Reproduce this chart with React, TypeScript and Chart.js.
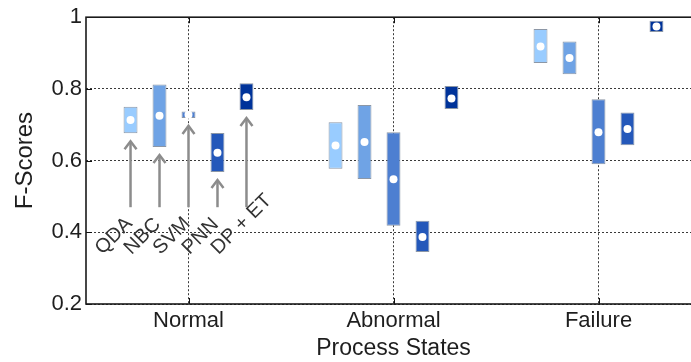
import React, { useEffect, useRef } from "react";
import { Chart, registerables } from "chart.js";

Chart.register(...registerables);

// Process states on the x axis
const STATES = ["Normal", "Abnormal", "Failure"];

// Classifiers, one floating bar per state
const MODELS = ["QDA", "NBC", "SVM", "PNN", "DP + ET"];

// F-score ranges (low / high) and means per classifier, per state
const QDA_LOW = [0.676, 0.577, 0.872];
const QDA_HIGH = [0.75, 0.707, 0.967];
const QDA_MEAN = [0.713, 0.642, 0.918];

const NBC_LOW = [0.638, 0.549, 0.841];
const NBC_HIGH = [0.812, 0.755, 0.932];
const NBC_MEAN = [0.725, 0.652, 0.886];

const SVM_LOW = [0.719, 0.418, 0.59];
const SVM_HIGH = [0.737, 0.679, 0.771];
const SVM_MEAN = [0.728, 0.548, 0.679];

const PNN_LOW = [0.568, 0.345, 0.643];
const PNN_HIGH = [0.677, 0.432, 0.734];
const PNN_MEAN = [0.622, 0.387, 0.688];

const DPET_LOW = [0.741, 0.744, 0.959];
const DPET_HIGH = [0.816, 0.808, 0.99];
const DPET_MEAN = [0.777, 0.773, 0.974];

// Y axis ticks
const Y_TICKS = [0.2, 0.4, 0.6, 0.8, 1];

// Value at which the annotation arrows under the "Normal" group start
const ARROW_BASE = 0.47;

const LOWS = [QDA_LOW, NBC_LOW, SVM_LOW, PNN_LOW, DPET_LOW];
const HIGHS = [QDA_HIGH, NBC_HIGH, SVM_HIGH, PNN_HIGH, DPET_HIGH];
const MEANS = [QDA_MEAN, NBC_MEAN, SVM_MEAN, PNN_MEAN, DPET_MEAN];
const COLORS = ["#99ccff", "#6fa3e5", "#4d7fd1", "#2458ba", "#00339a"];

const FONT = "'Liberation Sans', Arial, Helvetica, sans-serif";
const TEXT = "#1e1e1e";

const extras = {
  id: "rangeExtras",
  afterDatasetsDraw(chart: any) {
    const { ctx } = chart;
    const y = chart.scales.y;
    ctx.save();
    ctx.setLineDash([]);

    // white mean markers
    MEANS.forEach((means, i) => {
      const meta = chart.getDatasetMeta(i);
      means.forEach((m, j) => {
        const bar = meta.data[j];
        ctx.beginPath();
        ctx.arc(bar.x, y.getPixelForValue(m), 4, 0, Math.PI * 2);
        ctx.fillStyle = "#ffffff";
        ctx.fill();
      });
    });

    // arrows and rotated labels under the first group
    const base = y.getPixelForValue(ARROW_BASE);
    MODELS.forEach((name, i) => {
      const bar = chart.getDatasetMeta(i).data[0];
      const x = bar.x;
      const tip = y.getPixelForValue(LOWS[i][0]) + 8;
      ctx.strokeStyle = "#8c8c8c";
      ctx.lineWidth = 2.5;
      ctx.lineCap = "butt";
      ctx.beginPath();
      ctx.moveTo(x, base);
      ctx.lineTo(x, tip + 1);
      ctx.stroke();
      ctx.beginPath();
      ctx.moveTo(x - 6, tip + 8);
      ctx.lineTo(x, tip);
      ctx.lineTo(x + 6, tip + 8);
      ctx.stroke();

      ctx.save();
      ctx.translate(x - 28, base + 48);
      ctx.rotate(-Math.PI / 4);
      ctx.font = `20px ${FONT}`;
      ctx.fillStyle = "#333333";
      ctx.textAlign = "left";
      ctx.textBaseline = "alphabetic";
      ctx.fillText(name, 0, 0);
      ctx.restore();
    });
    ctx.restore();
  },
  afterDraw(chart: any) {
    const { ctx, chartArea: a } = chart;
    const x = chart.scales.x;
    const y = chart.scales.y;
    ctx.save();
    ctx.setLineDash([]);
    ctx.strokeStyle = "#111111";
    ctx.lineWidth = 1;
    // inward tick marks
    ctx.beginPath();
    Y_TICKS.forEach((v) => {
      const py = Math.round(y.getPixelForValue(v)) + 0.5;
      ctx.moveTo(a.left, py);
      ctx.lineTo(a.left + 6, py);
      ctx.moveTo(a.right, py);
      ctx.lineTo(a.right - 6, py);
    });
    STATES.forEach((_, j) => {
      const px = Math.round(x.getPixelForValue(j)) + 0.5;
      ctx.moveTo(px, a.bottom);
      ctx.lineTo(px, a.bottom - 6);
      ctx.moveTo(px, a.top);
      ctx.lineTo(px, a.top + 6);
    });
    ctx.stroke();
    // axes box
    ctx.lineWidth = 1.6;
    ctx.strokeStyle = "#1a1a1a";
    ctx.strokeRect(a.left, a.top, a.right - a.left, a.bottom - a.top);
    ctx.restore();
  },
};

export default function App() {
  const ref = useRef<HTMLCanvasElement | null>(null);

  useEffect(() => {
    if (!ref.current) return;
    const chart = new Chart(ref.current, {
      type: "bar",
      data: {
        labels: STATES,
        datasets: MODELS.map((name, i) => ({
          label: name,
          data: LOWS[i].map((lo, j) => [lo, HIGHS[i][j]]),
          backgroundColor: COLORS[i],
          borderColor: "#8c97a6",
          borderWidth: 1,
          borderSkipped: false,
          barPercentage: 0.48,
          categoryPercentage: 0.707,
        })),
      },
      options: {
        animation: false,
        responsive: false,
        devicePixelRatio: 1,
        layout: { padding: { top: 17, right: 1, left: 0, bottom: 0 } },
        plugins: {
          legend: { display: false },
          tooltip: { enabled: false },
        },
        scales: {
          x: {
            type: "category",
            offset: true,
            grid: {
              offset: false,
              drawTicks: false,
              color: "#3a3a3a",
              lineWidth: 1,
            },
            border: { display: false, dash: [2, 2] },
            ticks: {
              padding: 4,
              color: TEXT,
              font: { family: FONT, size: 22 },
              maxRotation: 0,
            },
            title: {
              display: true,
              text: "Process States",
              color: TEXT,
              font: { family: FONT, size: 23 },
              padding: { top: 0, bottom: 0 },
            },
            afterFit: (s: any) => {
              s.height = 58;
            },
          },
          y: {
            type: "linear",
            min: 0.2,
            max: 1,
            grid: {
              drawTicks: false,
              color: "#3a3a3a",
              lineWidth: 1,
            },
            border: { display: false, dash: [2, 2] },
            ticks: {
              stepSize: 0.2,
              padding: 4,
              color: TEXT,
              font: { family: FONT, size: 22 },
              callback: (v: any) => String(Math.round(Number(v) * 10) / 10),
            },
            title: {
              display: true,
              text: "F-Scores",
              color: TEXT,
              font: { family: FONT, size: 24 },
              padding: { top: 11, bottom: 0 },
            },
            afterFit: (s: any) => {
              s.width = 86;
            },
          },
        },
      },
      plugins: [extras],
    });
    return () => chart.destroy();
  }, []);

  return (
    <div
      style={{
        position: "fixed",
        left: 0,
        top: 0,
        width: 691,
        height: 362,
        overflow: "hidden",
        background: "#ffffff",
      }}
    >
      <canvas ref={ref} width={702} height={362} style={{ width: 702, height: 362 }} />
    </div>
  );
}
